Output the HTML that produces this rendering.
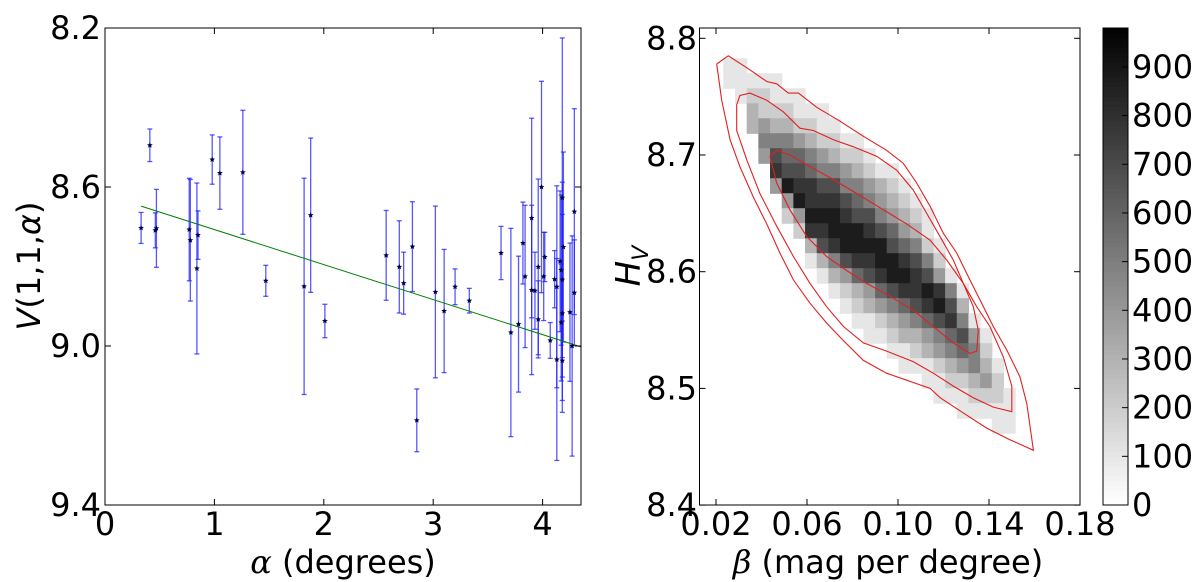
<!DOCTYPE html>
<html><head><meta charset="utf-8">
<style>
html,body{margin:0;padding:0;background:#fff;}
svg{display:block;}
text{font-family:"DejaVu Sans","Liberation Sans",sans-serif;fill:#000;}
</style></head>
<body>
<svg id="fig" width="1200" height="582" viewBox="0 0 1200 582" xmlns="http://www.w3.org/2000/svg">
  <g id="left"></g>
  <g id="right"></g>
</svg>
<script>
// ---------- Left chart data ----------
const alphaVals = [0.33,0.41,0.46,0.47,0.77,0.78,0.84,0.85,0.98,1.05,1.26,1.47,1.82,1.88,2.01,2.57,2.69,2.73,2.81,2.85,3.02,3.10,3.20,3.33,3.62,3.71,3.78,3.82,3.84,3.90,3.90,3.93,3.96,3.96,3.99,4.01,4.02,4.07,4.11,4.13,4.13,4.16,4.17,4.17,4.18,4.18,4.18,4.18,4.19,4.25,4.27,4.29,4.29];
const magVals = [8.703,8.495,8.709,8.704,8.707,8.734,8.805,8.721,8.531,8.565,8.563,8.836,8.850,8.671,8.937,8.772,8.801,8.842,8.750,9.187,8.864,8.912,8.851,8.886,8.766,8.966,8.945,8.741,8.825,8.678,8.859,8.861,8.801,8.933,8.600,8.825,8.776,8.986,8.832,9.034,8.851,8.787,8.809,8.941,8.918,8.833,8.627,9.037,8.751,8.915,9.000,8.662,8.866];
const magErrs = [0.039,0.041,0.044,0.098,0.129,0.153,0.215,0.061,0.062,0.091,0.156,0.039,0.272,0.194,0.042,0.113,0.116,0.078,0.113,0.079,0.216,0.155,0.045,0.031,0.067,0.262,0.171,0.103,0.179,0.251,0.213,0.097,0.221,0.097,0.266,0.111,0.062,0.045,0.072,0.254,0.254,0.177,0.189,0.147,0.249,0.245,0.402,0.100,0.239,0.174,0.277,0.259,0.133];
const fitLine = [8.619, 0.0881]; // intercept, slope
const fitRange = [0.33, 4.35];
const leftXTicks = [0,1,2,3,4];
const leftYTicks = [8.2,8.6,9.0,9.4];
const leftYTickLabels = ["8.2","8.6","9.0","9.4"];

// ---------- Right chart data ----------
const histRows = [
"011000000000000000000000000",
"011111000000000000000000000",
"001221110000000000000000000",
"000322211100000000000000000",
"000343322110000000000000000",
"000055543221100000000000000",
"000047665432210000000000000",
"000008776554321100000000000",
"000004988775543210000000000",
"000000498887654321000000000",
"000000249998775432100000000",
"000000028899987643100000000",
"000000003789999765210000000",
"000000001357889987520000000",
"000000000134678998741000000",
"000000000012346788985100000",
"000000000001234567897300000",
"000000000000112345678510000",
"000000000000011233456741000",
"000000000000000112345652000",
"000000000000000011123453100",
"000000000000000000112234200",
"000000000000000000011122210",
"000000000000000000000111110",
"000000000000000000000000110"];
const histBetaStart = 0.0181, histBetaStep = 0.00513;
const histHStart = 8.7829, histHStep = 0.01285;
const histCountScale = 100;
const contourOuterB = [0.0203,0.0254,0.0349,0.0423,0.0467,0.0518,0.0562,0.0642,0.0745,0.0848,0.0950,0.1023,0.1082,0.1141,0.1199,0.1258,0.1316,0.1368,0.1419,0.1478,0.1536,0.1566,0.1595,0.1492,0.1390,0.1287,0.1185,0.1141,0.1038,0.0950,0.0848,0.0760,0.0686,0.0613,0.0540,0.0481,0.0423,0.0364,0.0305,0.0262,0.0225,0.0203];
const contourOuterH = [8.778,8.785,8.773,8.763,8.761,8.753,8.753,8.741,8.729,8.716,8.704,8.693,8.676,8.656,8.633,8.616,8.593,8.573,8.553,8.533,8.510,8.487,8.447,8.456,8.466,8.479,8.492,8.500,8.507,8.513,8.524,8.541,8.556,8.573,8.593,8.616,8.641,8.664,8.690,8.713,8.747,8.778];
const contourMidB = [0.0291,0.0305,0.0349,0.0423,0.0496,0.0569,0.0628,0.0716,0.0804,0.0906,0.0994,0.1067,0.1126,0.1185,0.1243,0.1287,0.1346,0.1404,0.1463,0.1500,0.1500,0.1419,0.1331,0.1243,0.1155,0.1067,0.0950,0.0848,0.0760,0.0686,0.0613,0.0540,0.0467,0.0393,0.0335,0.0291,0.0291];
const contourMidH = [8.743,8.751,8.753,8.747,8.737,8.723,8.721,8.713,8.707,8.699,8.687,8.670,8.650,8.630,8.610,8.590,8.570,8.553,8.527,8.502,8.480,8.484,8.492,8.502,8.513,8.523,8.532,8.539,8.553,8.570,8.590,8.613,8.639,8.667,8.696,8.721,8.743];
const contourInB = [0.0437,0.0467,0.0525,0.0613,0.0716,0.0818,0.0936,0.1038,0.1141,0.1214,0.1287,0.1331,0.1353,0.1346,0.1316,0.1243,0.1155,0.1067,0.0965,0.0862,0.0774,0.0686,0.0599,0.0525,0.0467,0.0437];
const contourInH = [8.699,8.704,8.700,8.690,8.679,8.667,8.653,8.641,8.627,8.610,8.590,8.570,8.550,8.532,8.530,8.539,8.553,8.567,8.579,8.590,8.601,8.613,8.630,8.653,8.676,8.699];
const rightXTicks = [0.02,0.06,0.10,0.14,0.18];
const rightXTickLabels = ["0.02","0.06","0.10","0.14","0.18"];
const rightYTicks = [8.4,8.5,8.6,8.7,8.8];
const rightYTickLabels = ["8.4","8.5","8.6","8.7","8.8"];
const cbarTicks = [0,100,200,300,400,500,600,700,800,900];
const cbarMax = 980;

const NS = "http://www.w3.org/2000/svg";
function mk(tag, attrs, parent){ const e=document.createElementNS(NS,tag); for(const k in attrs) e.setAttribute(k,attrs[k]); parent.appendChild(e); return e; }

// ---------- Left chart ----------
const L = document.getElementById('left');
const lx = v => 105 + v*109.4;
const ly = v => 28 + (v-8.2)*397.5;
for(let i=0;i<alphaVals.length;i++){
  const x=lx(alphaVals[i]), y1=ly(magVals[i]-magErrs[i]), y2=ly(magVals[i]+magErrs[i]);
  const g=mk('g',{stroke:'#2020ff','stroke-opacity':0.75,'stroke-width':1.3},L);
  
  
  mk('line',{x1:x,x2:x,y1:y1,y2:y2},g);
  mk('line',{x1:x-2.5,x2:x+2.5,y1:y1,y2:y1},g);
  mk('line',{x1:x-2.5,x2:x+2.5,y1:y2,y2:y2},g);
}
const fl = mk('line',{x1:lx(fitRange[0]),y1:ly(fitLine[0]+fitLine[1]*fitRange[0]),x2:lx(fitRange[1]),y2:ly(fitLine[0]+fitLine[1]*fitRange[1]),stroke:'#008000','stroke-width':1},L);


function starPts(cx,cy,r){let p=[];for(let k=0;k<10;k++){const a=-Math.PI/2+k*Math.PI/5;const rr=k%2?r*0.45:r;p.push((cx+rr*Math.cos(a)).toFixed(2)+','+(cy+rr*Math.sin(a)).toFixed(2));}return p.join(' ');}
for(let i=0;i<alphaVals.length;i++){
  const s=mk('polygon',{points:starPts(lx(alphaVals[i]),ly(magVals[i]),3),fill:'#000040'},L);
  
  
}
const lf=mk('rect',{x:105,y:28,width:476,height:477,fill:'none',stroke:'#000','stroke-width':1},L);


leftXTicks.forEach(t=>{
  const x=lx(t);
  mk('line',{x1:x,x2:x,y1:505,y2:499,stroke:'#000'},L);
  mk('line',{x1:x,x2:x,y1:28,y2:34,stroke:'#000'},L);
  const tx=mk('text',{x:x,y:535,'font-size':32,'text-anchor':'middle'},L);
  tx.textContent=String(t);
  
  
});
leftYTicks.forEach((t,i)=>{
  const y=ly(t);
  mk('line',{x1:105,x2:111,y1:y,y2:y,stroke:'#000'},L);
  mk('line',{x1:581,x2:575,y1:y,y2:y,stroke:'#000'},L);
  const tx=mk('text',{x:101,y:y+11,'font-size':32,'text-anchor':'end'},L);
  tx.textContent=leftYTickLabels[i];
  
  
});
const lxl=mk('text',{x:343,y:573,'font-size':32,'text-anchor':'middle'},L);
lxl.innerHTML='<tspan font-family="DejaVu Serif, serif" font-style="italic">α</tspan> (degrees)';


const lyl=mk('text',{x:0,y:0,'font-size':32,'text-anchor':'middle','font-family':'DejaVu Serif, serif',transform:'translate(40,266) rotate(-90)'},L);
lyl.innerHTML='<tspan font-style="italic">V</tspan>(1,1,<tspan font-style="italic">α</tspan>)';



// ---------- Right chart ----------
const R=document.getElementById('right');
const rx = b => 716 + (b-0.02)*2275;
const ry = h => 38.3 + (8.8-h)*1167;
const gray = c => { const v=Math.round(255*(1-Math.min(c,cbarMax)/cbarMax)); return `rgb(${v},${v},${v})`; };
histRows.forEach((row,r)=>{
  for(let c=0;c<row.length;c++){
    const cnt=parseInt(row[c])*histCountScale;
    if(!cnt) continue;
    const b0=histBetaStart+c*histBetaStep, h0=histHStart-r*histHStep;
    const x0=rx(b0), x1=rx(b0+histBetaStep), y0=ry(h0), y1=ry(h0-histHStep);
    const cell=mk('rect',{x:x0,y:y0,width:x1-x0+0.6,height:y1-y0+0.6,fill:gray(cnt*0.97)},R);
    
    
  }
});
[[contourOuterB,contourOuterH,'contour-outer'],[contourMidB,contourMidH,'contour-middle'],[contourInB,contourInH,'contour-inner']].forEach(([B,H,n])=>{
  const pts=B.map((b,i)=>rx(b).toFixed(1)+','+ry(H[i]).toFixed(1)).join(' ');
  const p=mk('polyline',{points:pts,fill:'none',stroke:'#e02020','stroke-width':1.1},R);
  
  
});
const rf=mk('rect',{x:699.5,y:28,width:380.5,height:477,fill:'none',stroke:'#000','stroke-width':1},R);


rightXTicks.forEach((t,i)=>{
  const x=rx(t);
  mk('line',{x1:x,x2:x,y1:505,y2:499,stroke:'#000'},R);
  mk('line',{x1:x,x2:x,y1:28,y2:34,stroke:'#000'},R);
  const tx=mk('text',{x:x,y:535,'font-size':32,'text-anchor':'middle'},R);
  tx.textContent=rightXTickLabels[i];
  
  
});
rightYTicks.forEach((t,i)=>{
  const y=ry(t);
  mk('line',{x1:699.5,x2:705.5,y1:y,y2:y,stroke:'#000'},R);
  mk('line',{x1:1080,x2:1074,y1:y,y2:y,stroke:'#000'},R);
  const tx=mk('text',{x:697,y:y+11,'font-size':32,'text-anchor':'end'},R);
  tx.textContent=rightYTickLabels[i];
  
  
});
const rxl=mk('text',{x:888,y:573,'font-size':32,'text-anchor':'middle'},R);
rxl.innerHTML='<tspan font-family="DejaVu Serif, serif" font-style="italic">β</tspan> (mag per degree)';


const ryl=mk('text',{x:0,y:0,'font-size':34,'text-anchor':'middle','font-family':'DejaVu Serif, serif','font-style':'italic',transform:'translate(640,266) rotate(-90)'},R);
ryl.innerHTML='H<tspan font-size="22" dy="8">V</tspan>';



const cb=mk('g',{},R);


const cy = v => 505 - v/cbarMax*477;
for(let v=0; v<cbarMax; v+=10){
  mk('rect',{x:1103,y:cy(v+10),width:25,height:cy(v)-cy(v+10)+0.5,fill:gray(v)},cb);
}
mk('rect',{x:1103,y:28,width:25,height:477,fill:'none',stroke:'#000','stroke-width':1},cb);
cbarTicks.forEach(t=>{
  const y=cy(t);
  mk('line',{x1:1128,x2:1122,y1:y,y2:y,stroke:'#000'},cb);
  const tx=mk('text',{x:1132,y:y+11,'font-size':32},cb);
  tx.textContent=String(t);
  
  
});
</script>
</body></html>
